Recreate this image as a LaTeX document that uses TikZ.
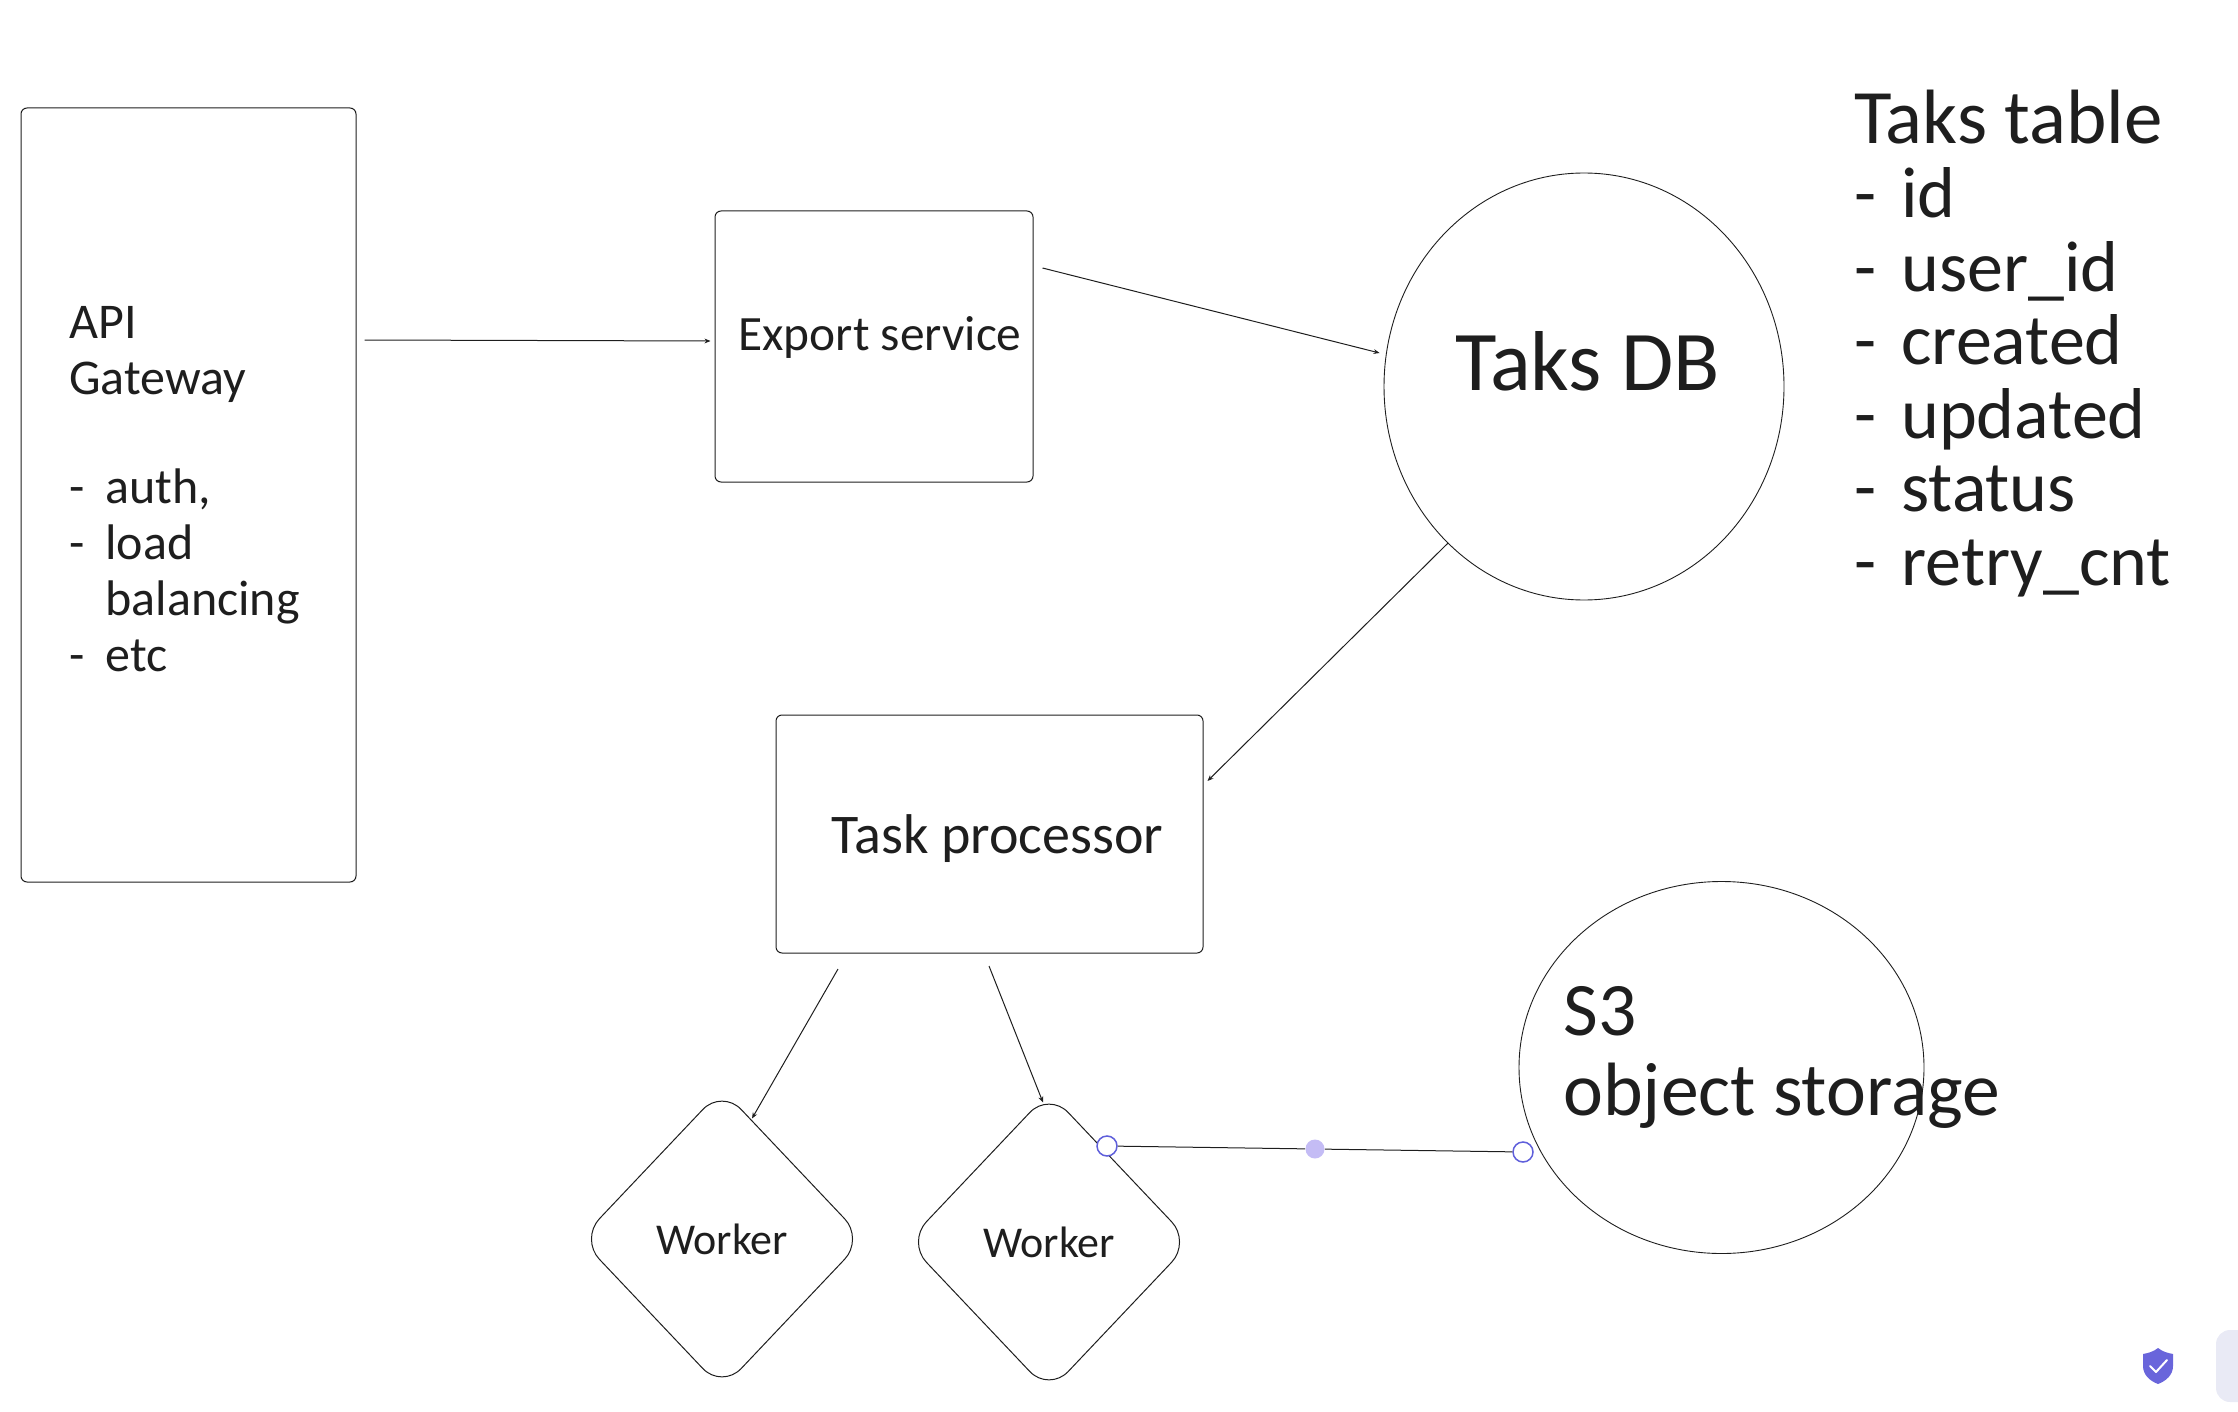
\documentclass[tikz,border=0pt]{standalone}
\usepackage{fontspec}
\setmainfont{Carlito}
\usetikzlibrary{shapes.geometric,arrows.meta}
\definecolor{ink}{HTML}{1E1E1E}
\definecolor{handle}{HTML}{5F5FDB}
\definecolor{midh}{HTML}{C4BCF5}
\definecolor{shield}{HTML}{6965DB}
\definecolor{dock}{HTML}{E9EAF5}
\newcommand\dashi[1]{\makebox[#1][l]{-}}
\newcommand\tli[1]{{\fontsize{36}{36.8}\selectfont\dashi{23.5pt}#1}}
\tikzset{
  px/.style={x=0.5pt,y=-0.5pt},
  boxs/.style={draw=ink,line width=0.5pt,rounded corners=3pt,inner sep=0pt},
  circs/.style={draw=ink,line width=0.45pt,ellipse,inner sep=0pt},
  dias/.style={draw=ink,line width=0.5pt,diamond,inner sep=0pt,rounded corners=14pt,minimum width=142pt,minimum height=150pt,aspect=0.94,font=\fontsize{22}{26}\selectfont,text=ink},
  arr/.style={draw=ink,line width=0.5pt,-{Stealth[length=3pt,width=2.4pt]}},
  lbl/.style={text=ink,inner sep=0pt,anchor=north west,align=left},
  hcirc/.style={circle,draw=handle,fill=white,line width=0.75pt,minimum size=10pt,inner sep=0pt},
  mcirc/.style={circle,fill=midh,minimum size=9.5pt,inner sep=0pt},
}
\begin{document}
\begin{tikzpicture}[px]
\useasboundingbox (0,0) rectangle (2238,1412);
% shapes
\node[boxs,minimum width=167.5pt,minimum height=387pt] (api) at (188.5,495) {};
\node[boxs,minimum width=159pt,minimum height=135.5pt] (export) at (874,346.5) {};
\node[boxs,minimum width=213.5pt,minimum height=119pt] (proc) at (989.5,834) {};
\node[circs,minimum width=200pt,minimum height=213.5pt] (db) at (1584,386.5) {};
\node[circs,minimum width=202.5pt,minimum height=186pt] (s3) at (1721.5,1067.5) {};
\node[dias] (w1) at (722,1239) {Worker};
\node[dias] (w2) at (1049,1242) {Worker};
% labels
\node[lbl,font=\fontsize{25}{28}\selectfont] (apit) at (69,306) {API\\Gateway\\[26.5pt]\dashi{18pt}auth,\\\dashi{18pt}load\\\hspace*{18pt}balancing\\\dashi{18pt}etc};
\node[lbl,font=\fontsize{24.7}{28}\selectfont] (expt) at (738,316) {Export service};
\node[lbl,font=\fontsize{42.5}{46}\selectfont] (dbt) at (1455,331) {Taks DB};
\node[lbl,font=\fontsize{28}{30}\selectfont] (proct) at (831,814) {Task processor};
\node[lbl,font=\fontsize{37.8}{40}\selectfont] (s3t) at (1563,986) {S3\\object storage};
\node[lbl,font=\fontsize{38.5}{36.8}\selectfont] (tablet) at (1854,90) {Taks table\\\tli{id}\\\tli{user\_id}\\\tli{created}\\\tli{updated}\\\tli{status}\\\tli{retry\_cnt}};
% connectors
\draw[arr] ([shift={(8,-155)}]api.east) -- ([shift={(-4,-5.5)}]export.west);
\draw[arr] ([shift={(9,-78.5)}]export.east) -- ([shift={(-4,-33.5)}]db.west);
\draw[arr] ([shift={(6,5)}]db.south west) -- ([shift={(4,-53)}]proc.east);
\draw[arr] ([shift={(-151.5,15.5)}]proc.south) -- ([shift={(30,30)}]w1.north);
\draw[arr] ([shift={(-0.5,12.5)}]proc.south) -- ([shift={(-6,11)}]w2.north);
\node[hcirc] (h1) at (1107,1146) {};
\node[hcirc] (h2) at (1523,1152) {};
\path (h1) -- (h2) node[mcirc,midway] (hm) {};
\draw[draw=ink,line width=0.5pt] (h1) -- (hm) -- (h2);
% editor chrome
\fill[dock,rounded corners=7pt] (2216,1330) rectangle (2260,1402);
\fill[shield] (2158,1348) .. controls (2153,1352) and (2148,1353) .. (2143,1354) -- (2143,1366) .. controls (2143,1375) and (2150,1381) .. (2158,1384) .. controls (2166,1381) and (2173,1375) .. (2173,1366) -- (2173,1354) .. controls (2168,1353) and (2163,1352) .. (2158,1348) -- cycle;
\draw[white,line width=1pt,line cap=round,line join=round] (2150,1366) -- (2156,1372) -- (2167,1360);
\end{tikzpicture}
\end{document}
